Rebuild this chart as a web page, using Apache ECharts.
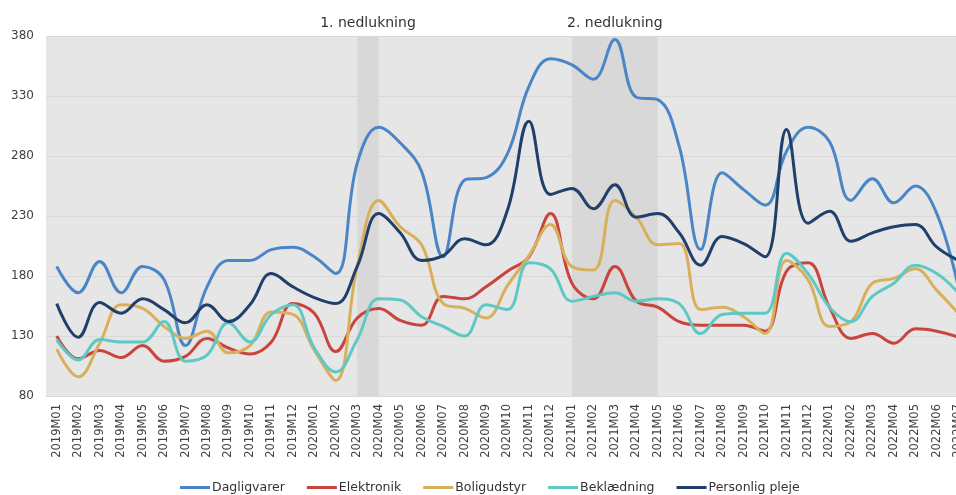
<!DOCTYPE html>
<html>
<head>
<meta charset="utf-8">
<script src="https://cdn.jsdelivr.net/npm/echarts@6/dist/echarts.min.js"></script>
<style>html,body{margin:0;padding:0;background:#fff;}#c{width:956px;height:495px;}</style>
</head>
<body>
<div id="c"></div>
<script>
const categories = ['2019M01','2019M02','2019M03','2019M04','2019M05','2019M06','2019M07','2019M08','2019M09','2019M10','2019M11','2019M12',
  '2020M01','2020M02','2020M03','2020M04','2020M05','2020M06','2020M07','2020M08','2020M09','2020M10','2020M11','2020M12',
  '2021M01','2021M02','2021M03','2021M04','2021M05','2021M06','2021M07','2021M08','2021M09','2021M10','2021M11','2021M12',
  '2022M01','2022M02','2022M03','2022M04','2022M05','2022M06','2022M07'];
const seriesNames = ['Dagligvarer','Elektronik','Boligudstyr','Beklædning','Personlig pleje'];
const dagligvarer = [188,166,192,166,188,177,122,171,193,193,202,204,196,182,274,304,291,267,196,260,262,282,338,361,356,344,377,329,327,288,202,266,252,239,284,304,292,243,261,241,255,232,171];
const elektronik = [130,111,118,112,122,109,113,128,120,115,125,157,149,117,145,153,143,139,163,161,171,184,196,232,174,161,188,159,154,142,139,139,139,134,184,191,154,128,132,124,136,134,129];
const boligudstyr = [119,96,124,156,153,138,128,134,116,122,150,148,118,93,188,243,221,206,157,153,145,172,197,223,188,185,243,229,206,207,152,154,146,132,193,177,138,142,174,178,186,168,149];
const beklaedning = [127,110,127,125,125,142,109,114,141,125,148,156,120,100,127,161,160,146,138,130,156,152,191,186,159,163,166,159,161,157,132,148,149,149,199,182,154,142,163,174,189,182,166];
const personligPleje = [157,129,158,149,161,152,141,156,142,156,182,171,162,157,188,232,216,193,197,211,206,235,309,248,253,236,256,229,232,216,189,213,207,196,302,224,234,209,216,221,223,204,193];
const lockdowns = [['1. nedlukning','2020M03','2020M04'],['2. nedlukning','2021M01','2021M05']];
const yTicks = {min:80, max:380, interval:50};

const colors = ['#4a86c6','#c8443c','#d8b05c','#5ec9c4','#213f6b'];
const values = [dagligvarer, elektronik, boligudstyr, beklaedning, personligPleje];
const font = 'DejaVu Sans, Verdana, sans-serif';

const series = seriesNames.map((n,i)=>({
  name:n, type:'line', data:values[i], smooth:0.4, symbol:'none',
  lineStyle:{width:3, color:colors[i]}, itemStyle:{color:colors[i]}, z:3
}));
series[0].markArea = {
  silent:true,
  itemStyle:{color:'#d8d8d8'},
  label:{show:true, position:'top', distance:6, color:'#333', fontSize:14, fontFamily:font},
  data: lockdowns.map(l=>[{name:l[0], xAxis:l[1]},{xAxis:l[2]}])
};

const chart = echarts.init(document.getElementById('c'), null, {renderer:'canvas'});
chart.setOption({
  animation:false,
  backgroundColor:'#fff',
  color:colors,
  grid:{left:46, width:923, top:36, height:360, show:true, backgroundColor:'#e6e6e6', borderWidth:0,
        containLabel:false, outerBoundsMode:'none'},
  legend:{
    data:seriesNames, left:175, top:476, icon:'rect', itemWidth:30, itemHeight:3, itemGap:22,
    textStyle:{color:'#333', fontSize:12.5, fontFamily:font, padding:[0,0,0,-3]}
  },
  xAxis:{
    type:'category', data:categories, boundaryGap:true,
    axisLine:{show:true, lineStyle:{color:'#d9d9d9', width:1}},
    axisTick:{show:false},
    axisLabel:{rotate:90, interval:0, fontSize:11.5, color:'#404040', fontFamily:font, margin:8}
  },
  yAxis:{
    type:'value', min:yTicks.min, max:yTicks.max, interval:yTicks.interval,
    axisLine:{show:false}, axisTick:{show:false},
    splitLine:{show:true, lineStyle:{color:'#d9d9d9', width:1}},
    axisLabel:{fontSize:12, color:'#404040', fontFamily:font, margin:12}
  },
  series:series
});
</script>
</body>
</html>
